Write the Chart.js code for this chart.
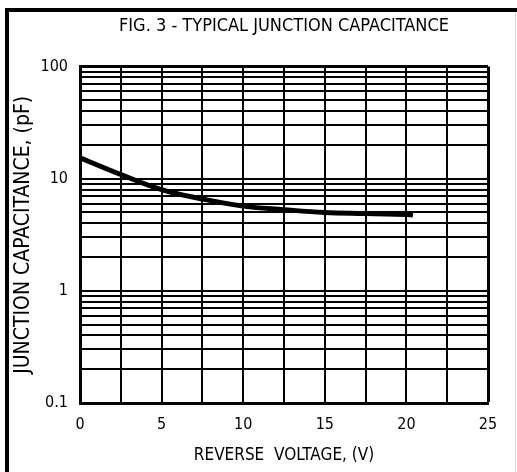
<!DOCTYPE html>
<html>
<head>
<meta charset="utf-8">
<script src="https://cdn.jsdelivr.net/npm/chart.js@4/dist/chart.umd.min.js"></script>
<style>
  html, body { margin: 0; padding: 0; background: #fff; }
  #wrap { position: relative; width: 517px; height: 472px; }
</style>
</head>
<body>
<div id="wrap"><canvas id="c" width="517" height="472"></canvas></div>
<script>
// values
const voltage = [0, 2.5, 5, 7.5, 10, 12.5, 15, 17.5, 20, 20.4];
const capacitance = [15.4, 10.9, 8.0, 6.6, 5.7, 5.3, 5.0, 4.9, 4.8, 4.75];
const xTickLabels = [0, 5, 10, 15, 20, 25];
const yTickLabels = [0.1, 1, 10, 100];

const FONT = '"Liberation Sans Narrow", "Arial Narrow", "DejaVu Sans Condensed", sans-serif';

const framePlugin = {
  id: 'frame',
  beforeDraw(chart) {
    const ctx = chart.ctx;
    ctx.save();
    ctx.fillStyle = '#fff';
    ctx.fillRect(0, 0, chart.width, chart.height);
    ctx.fillStyle = '#000';
    ctx.fillRect(5, 8, 4, chart.height - 8);
    ctx.fillRect(5, 8, chart.width - 5, 4);
    ctx.fillStyle = '#d8d8d8';
    ctx.fillRect(chart.width - 2, 12, 1, chart.height - 12);
    ctx.restore();
  }
};

new Chart(document.getElementById('c'), {
  type: 'line',
  data: {
    datasets: [{
      data: voltage.map((v, i) => ({ x: v, y: capacitance[i] })),
      borderColor: '#000',
      borderWidth: 5,
      pointRadius: 0,
      tension: 0.4,
      fill: false
    }]
  },
  options: {
    responsive: false,
    animation: false,
    layout: { padding: { left: 0, right: 29, top: 0, bottom: 0 } },
    plugins: {
      legend: { display: false },
      tooltip: { enabled: false },
      title: {
        display: true,
        fullSize: false,
        text: 'FIG. 3 - TYPICAL JUNCTION CAPACITANCE',
        color: '#000',
        font: { family: FONT, size: 18, weight: 'normal', lineHeight: 1.2 },
        padding: { top: 16, bottom: 29 }
      }
    },
    scales: {
      x: {
        type: 'linear',
        min: 0,
        max: 25,
        afterFit(scale) { scale.height = 69; },
        afterBuildTicks(scale) {
          const t = [];
          for (let v = 0; v <= 25; v += 2.5) t.push({ value: v });
          scale.ticks = t;
        },
        ticks: {
          autoSkip: false,
          maxRotation: 0,
          padding: 12,
          color: '#000',
          font: { family: FONT, size: 16 },
          callback: v => xTickLabels.includes(v) ? String(v) : ''
        },
        grid: {
          color: '#000',
          lineWidth: ctx => (ctx.tick && (ctx.tick.value === 25)) ? 3 : 2,
          drawTicks: false
        },
        border: { color: '#000', width: 3 },
        title: {
          display: true,
          text: 'REVERSE  VOLTAGE, (V)',
          color: '#000',
          font: { family: FONT, size: 17 },
          padding: { top: 0, bottom: 6 }
        }
      },
      y: {
        type: 'logarithmic',
        min: 0.1,
        max: 100,
        afterFit(scale) { scale.width = 80; },
        afterBuildTicks(scale) {
          const t = [];
          for (let e = -1; e <= 1; e++) {
            for (let m = 1; m <= 9; m++) t.push({ value: +(m * Math.pow(10, e)).toPrecision(3) });
          }
          t.push({ value: 100 });
          scale.ticks = t;
        },
        ticks: {
          autoSkip: false,
          padding: 12,
          color: '#000',
          font: { family: FONT, size: 16 },
          callback: v => yTickLabels.includes(v) ? String(v) : ''
        },
        grid: {
          color: '#000',
          lineWidth: ctx => (ctx.tick && ctx.tick.value === 100) ? 3 : 2,
          drawTicks: false
        },
        border: { color: '#000', width: 3 },
        title: {
          display: true,
          text: 'JUNCTION CAPACITANCE, (pF)',
          color: '#000',
          font: { family: FONT, size: 21 },
          padding: { top: 11, bottom: 0 }
        }
      }
    }
  },
  plugins: [framePlugin]
});
</script>
</body>
</html>
